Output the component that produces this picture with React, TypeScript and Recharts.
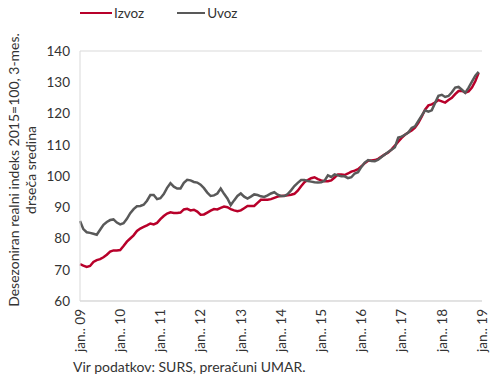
import React from "react";
import {
  LineChart,
  Line,
  XAxis,
  YAxis,
  CartesianGrid,
  Legend,
} from "recharts";

// monthly values, jan 2009 - dec 2018
const izvoz = [
  71.8, 71.3, 70.9, 71.2, 72.5, 73.1, 73.4, 74.0, 74.8, 75.8, 76.2, 76.2,
  76.3, 77.6, 79.0, 80.0, 81.0, 82.4, 83.2, 83.7, 84.2, 84.8, 84.5, 85.0,
  86.2, 87.2, 88.0, 88.4, 88.2, 88.2, 88.3, 89.3, 89.5, 89.0, 89.2, 88.6,
  87.6, 87.7, 88.3, 88.9, 89.4, 89.3, 89.8, 90.2, 90.0, 89.4, 89.0, 88.7,
  89.0, 89.7, 90.4, 90.4, 90.4, 91.4, 92.4, 92.4, 92.4, 92.6, 93.0, 93.4,
  93.6, 93.7, 93.8, 94.0, 94.3, 95.3, 96.7, 98.0, 98.7, 99.3, 99.6, 99.0,
  98.6, 98.3, 98.3, 98.6, 99.5, 100.5, 100.5, 100.3, 100.8, 101.4, 101.7, 102.2,
  103.1, 104.1, 104.9, 105.0, 105.1, 105.5, 106.2, 106.9, 107.5, 108.5, 109.7, 111.0,
  112.2, 113.2, 113.9, 114.6, 115.5, 117.0, 119.0, 121.2, 122.6, 122.9, 123.5, 124.3,
  123.9, 123.5, 124.3, 125.0, 126.2, 127.2, 127.3, 126.7, 127.1, 128.3, 130.3, 133.0,
];

const uvoz = [
  85.6, 83.0, 82.0, 81.8, 81.5, 81.2, 82.8, 84.4, 85.3, 85.9, 86.1, 85.1,
  84.5, 84.9, 86.3, 88.1, 89.4, 90.3, 90.4, 90.8, 92.1, 93.9, 93.9, 92.6,
  92.9, 94.2, 96.2, 97.7, 96.6, 96.0, 96.0, 97.8, 98.8, 98.6, 98.1, 97.9,
  97.2, 96.1, 94.7, 93.6, 93.8, 94.4, 96.0, 94.3, 92.8, 90.7, 92.2, 93.6,
  94.4, 93.4, 92.8, 93.4, 94.1, 93.9, 93.5, 93.3, 93.8, 94.4, 94.8, 94.0,
  93.6, 93.6, 94.2, 95.4, 96.8, 97.8, 98.7, 98.7, 98.4, 98.2, 98.0, 97.9,
  98.0, 98.5, 100.2, 99.7, 100.5, 100.2, 99.9, 99.9, 99.3, 99.6, 100.8, 101.2,
  102.9, 104.3, 105.1, 104.8, 104.7, 105.2, 106.1, 106.9, 107.7, 108.4, 109.2, 112.3,
  112.6, 113.2, 113.9, 115.4, 115.9, 117.6, 119.3, 121.0, 120.6, 121.0, 123.4, 125.7,
  126.0, 125.3, 125.6, 126.8, 128.3, 128.5, 127.6, 126.6, 128.3, 130.2, 132.1, 133.3,
];

const tickLabels = [
  "jan.. 09", "jan.. 10", "jan.. 11", "jan.. 12", "jan.. 13", "jan.. 14",
  "jan.. 15", "jan.. 16", "jan.. 17", "jan.. 18", "jan.. 19",
];

const yTicks = [60, 70, 80, 90, 100, 110, 120, 130, 140];

const RED = "#b8002a";
const GRAY = "#595959";
const FONT = "Lato, 'Open Sans', sans-serif";

const chartData = izvoz.map((v, i) => ({ t: i, izvoz: v, uvoz: uvoz[i] }));
chartData.push({ t: izvoz.length, izvoz: null, uvoz: null });

const XTick = (props) => {
  const { x, y, payload } = props;
  return (
    <text
      x={x}
      y={y}
      transform={`rotate(-90, ${x}, ${y})`}
      textAnchor="end"
      dy="0.35em"
      fontSize={13.5}
      fill="#333"
      fontFamily={FONT}
    >
      {tickLabels[payload.value / 12]}
    </text>
  );
};

const YLabel = () => (
  <g transform="rotate(-90, 0, 0)">
    <text x={-170} y={19} textAnchor="middle" fontSize={14} fill="#333" fontFamily={FONT}>
      Desezoniran realni indeks 2015=100, 3-mes.
    </text>
    <text x={-170} y={36} textAnchor="middle" fontSize={14} fill="#333" fontFamily={FONT}>
      drseča sredina
    </text>
  </g>
);

const LegendContent = () => (
  <div style={{ display: "flex", fontFamily: FONT, fontSize: 13.5, color: "#333" }}>
    <span style={{ display: "flex", alignItems: "center", marginRight: 33 }}>
      <span style={{ width: 32, height: 2, background: RED, marginRight: 2 }} />
      Izvoz
    </span>
    <span style={{ display: "flex", alignItems: "center" }}>
      <span style={{ width: 28, height: 2, background: GRAY, marginRight: 2 }} />
      Uvoz
    </span>
  </div>
);

export default function App() {
  return (
    <div style={{ position: "absolute", left: 0, top: 0, width: 490, height: 382, background: "#fff" }}>
      <LineChart
        width={490}
        height={382}
        data={chartData}
        margin={{ top: 35, right: 8, bottom: 31, left: 0 }}
      >
        <CartesianGrid vertical={false} stroke="#d9d9d9" />
        <XAxis
          dataKey="t"
          type="number"
          domain={[0, 120]}
          ticks={[0, 12, 24, 36, 48, 60, 72, 84, 96, 108, 120]}
          tick={<XTick />}
          tickLine={false}
          axisLine={{ stroke: "#d9d9d9" }}
          height={50}
          interval={0}
        />
        <YAxis
          yAxisId="l"
          domain={[60, 140]}
          ticks={yTicks}
          tickLine={false}
          axisLine={{ stroke: "#d9d9d9" }}
          width={80}
          tickMargin={4}
          tick={{ fontSize: 13.5, fill: "#333", fontFamily: FONT }}
          interval={0}
        />
        <YAxis
          yAxisId="r"
          orientation="right"
          domain={[60, 140]}
          tick={false}
          tickLine={false}
          axisLine={{ stroke: "#d9d9d9" }}
          width={0}
        />
        <Legend
          verticalAlign="top"
          align="left"
          content={<LegendContent />}
          wrapperStyle={{ top: 5, left: 80, width: 300 }}
        />
        <Line
          yAxisId="l"
          type="linear"
          dataKey="izvoz"
          stroke={RED}
          strokeWidth={2.5}
          dot={false}
          isAnimationActive={false}
        />
        <Line
          yAxisId="l"
          type="linear"
          dataKey="uvoz"
          stroke={GRAY}
          strokeWidth={2.5}
          dot={false}
          isAnimationActive={false}
        />
        <YLabel />
      </LineChart>
      <div
        style={{
          position: "absolute",
          left: 73,
          top: 358,
          fontFamily: FONT,
          fontSize: 14,
          color: "#333",
          whiteSpace: "nowrap",
        }}
      >
        Vir podatkov: SURS, preračuni UMAR.
      </div>
    </div>
  );
}
